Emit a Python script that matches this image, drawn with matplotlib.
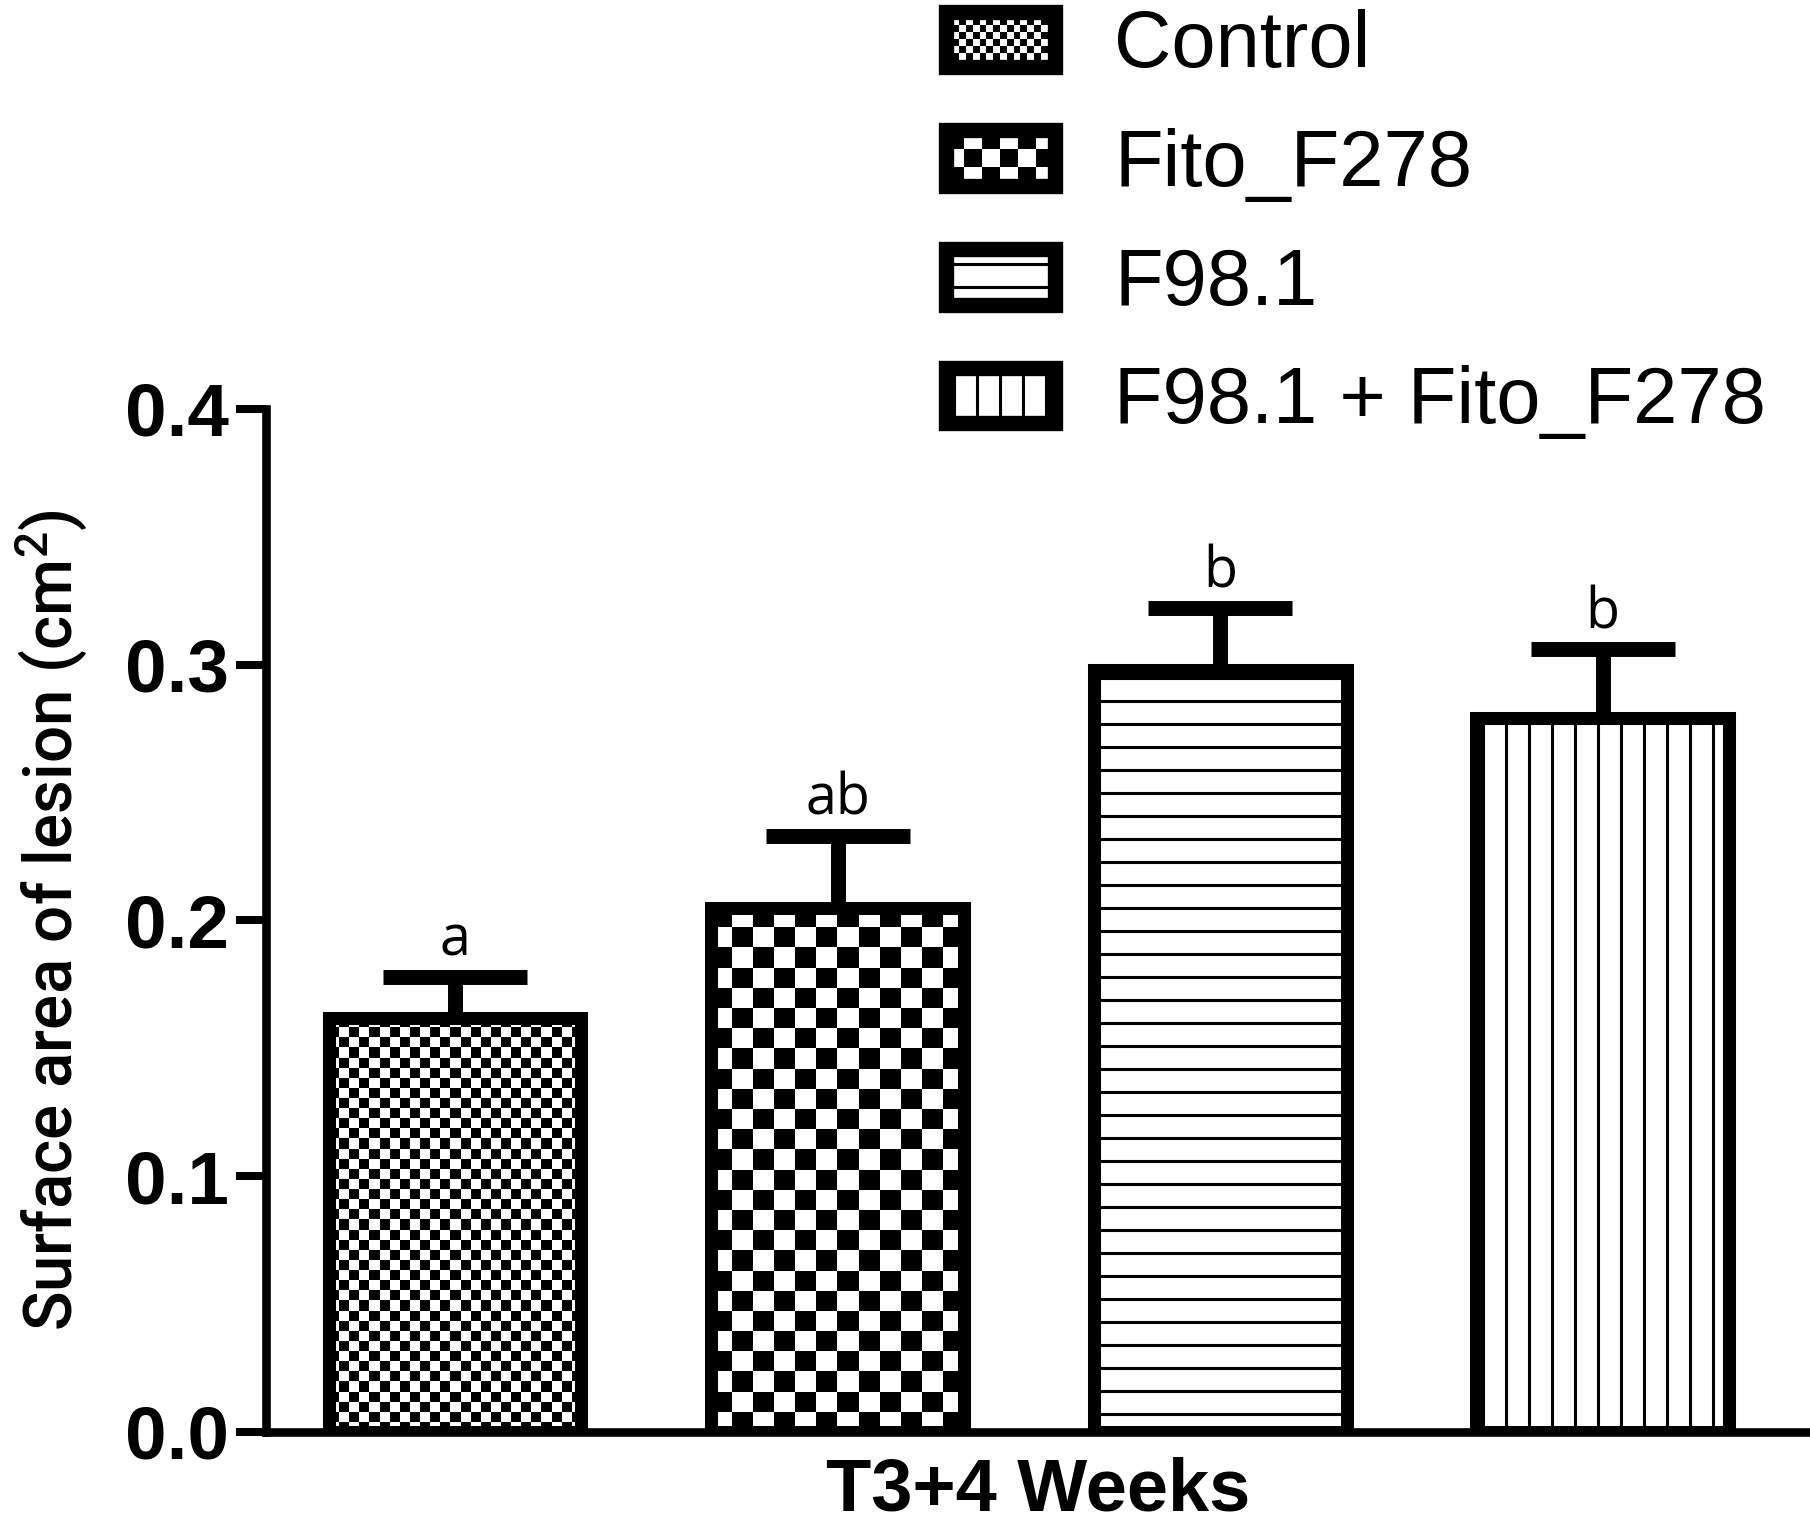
import numpy as np
import matplotlib.pyplot as plt
from matplotlib.patches import Rectangle, Patch
from matplotlib.legend_handler import HandlerBase

groups = ["Control", "Fito_F278", "F98.1", "F98.1 + Fito_F278"]
means = [0.162, 0.205, 0.298, 0.279]
errs = [0.016, 0.028, 0.024, 0.027]
letters = ["a", "ab", "b", "b"]
y_ticks = [0.0, 0.1, 0.2, 0.3, 0.4]
x_label = "T3+4 Weeks"
y_label = "Surface area of lesion (cm$^2$)"

# fill style per bar: (checker cell in px, hatch)
bar_fills = [(10.2, None), (20.4, None), (None, "-"), (None, "|")]
# same for legend boxes, cell in points
legend_fills = [(3.5, None), (8.9, None), (None, "-"), (None, "|")]

DPI = 138
EDGE = 6.8

plt.rcParams["font.family"] = ["Liberation Sans", "DejaVu Sans"]
plt.rcParams["mathtext.default"] = "regular"
plt.rcParams["hatch.linewidth"] = 1.6


class BoxHandler(HandlerBase):
    def __init__(self, cell=None, hatch=None):
        super().__init__()
        self.cell = cell
        self.hatch = hatch

    def create_artists(self, legend, orig_handle, xdescent, ydescent,
                       width, height, fontsize, trans):
        x0, y0 = -xdescent, -ydescent
        arts = []
        if self.cell:
            nx = max(1, int(round(width / self.cell)))
            ny = max(1, int(round(height / self.cell)))
            cw, ch = width / nx, height / ny
            for i in range(nx):
                for j in range(ny):
                    if (i + j) % 2 == 0:
                        arts.append(Rectangle((x0 + i * cw, y0 + j * ch), cw, ch,
                                              facecolor="black", edgecolor="none",
                                              transform=trans))
        arts.append(Rectangle((x0, y0), width, height, facecolor="none",
                              edgecolor="black", lw=EDGE + 1.2, hatch=self.hatch,
                              joinstyle="miter", transform=trans))
        return arts


fig = plt.figure(figsize=(1810 / DPI, 1534 / DPI), dpi=DPI)
ax = fig.add_axes([0.1472, 0.0665, 0.8528, 0.6669])
xlim = (-0.493, 3.542)
ylim = (0, 0.4)
ax.set_xlim(*xlim)
ax.set_ylim(*ylim)

x = np.arange(len(groups))
bars = ax.bar(x, means, width=0.661, facecolor="none", edgecolor="black",
              lw=EDGE, zorder=3)

for b, (cell, hatch) in zip(bars, bar_fills):
    b.set_joinstyle("miter")
    if hatch:
        b.set_hatch(hatch)
        continue
    bx, by, bw, bh = b.get_x(), b.get_y(), b.get_width(), b.get_height()
    (px0, py0), (px1, py1) = ax.transData.transform([(bx, by), (bx + bw, by + bh)])
    nx = max(1, int(round((px1 - px0) / cell)))
    ny = max(1, int(round((py1 - py0) / cell)))
    grid = np.indices((ny, nx)).sum(axis=0) % 2
    im = ax.imshow(grid, cmap="gray_r", vmin=0, vmax=1, origin="lower",
                   extent=(bx, bx + bw, by, by + bh), aspect="auto",
                   interpolation="nearest", zorder=2)
    im.set_clip_path(b)

ax.set_xlim(*xlim)
ax.set_ylim(*ylim)

_, caps, _ = ax.errorbar(x, means, yerr=[np.zeros(len(means)), errs], fmt="none",
                         ecolor="black", elinewidth=7.8, capsize=37.8,
                         capthick=7.8, zorder=4)
for cl in caps:
    if np.allclose(cl.get_ydata(), means):
        cl.set_visible(False)

for xi, m, e, t in zip(x, means, errs, letters):
    ax.annotate(t, (xi, m + e), xytext=(0, 11), textcoords="offset points",
                ha="center", va="baseline", fontsize=29,
                family=["Open Sans", "DejaVu Sans"])

for s in ["top", "right"]:
    ax.spines[s].set_visible(False)
for s in ["left", "bottom"]:
    ax.spines[s].set_linewidth(4.5)

ax.set_xticks([])
ax.set_yticks(y_ticks, labels=[f"{t:.1f}" for t in y_ticks])
ax.tick_params(axis="y", labelsize=39, width=4.2, length=15.6, pad=4)
for lbl in ax.get_yticklabels():
    lbl.set_fontweight("bold")

ax.set_xlabel(x_label, fontsize=38.6, fontweight="bold", labelpad=13)
ax.set_ylabel(y_label, fontsize=34.2, labelpad=18,
              family=["Roboto", "Liberation Sans", "DejaVu Sans"], fontweight="medium")

handles = [Patch(label=g) for g in groups]
hmap = {h: BoxHandler(*f) for h, f in zip(handles, legend_fills)}
fig.legend(handles=handles, handler_map=hmap, loc="upper left",
           bbox_to_anchor=(0.5224, 0.994), frameon=False, fontsize=41.5,
           handlelength=1.37, handleheight=0.7, handletextpad=0.75,
           labelspacing=0.55, borderpad=0, borderaxespad=0)

fig.savefig("out.png", dpi=DPI)
